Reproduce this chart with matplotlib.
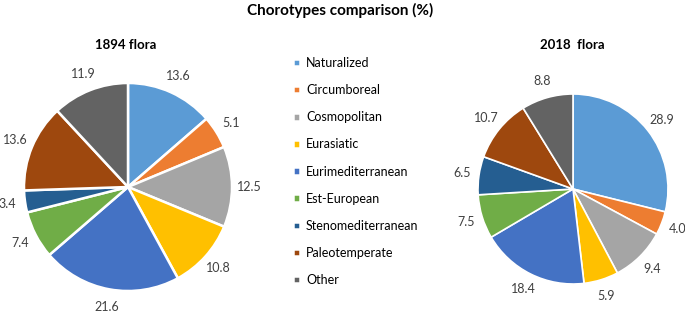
import matplotlib
matplotlib.use("Agg")
import matplotlib.pyplot as plt

categories = ["Naturalized", "Circumboreal", "Cosmopolitan", "Eurasiatic",
              "Eurimediterranean", "Est-European", "Stenomediterranean",
              "Paleotemperate", "Other"]
flora_1894 = [13.6, 5.1, 12.5, 10.8, 21.6, 7.4, 3.4, 13.6, 11.9]
flora_2018 = [28.9, 4.0, 9.4, 5.9, 18.4, 7.5, 6.5, 10.7, 8.8]
colors = ["#5B9BD5", "#ED7D31", "#A5A5A5", "#FFC000", "#4472C4",
          "#70AD47", "#255E91", "#9E480E", "#636363"]

plt.rcParams['font.family'] = ['Lato', 'DejaVu Sans']

W, H = 685, 312
fig = plt.figure(figsize=(W / 100, H / 100), dpi=100)


def pie_axes(cx, cy, r):
    return fig.add_axes([(cx - r) / W, (H - cy - r) / H, 2 * r / W, 2 * r / H])


def draw_pie(ax, values, lw, dist):
    wedges, texts = ax.pie(values, colors=colors, startangle=90, counterclock=False,
                           labels=[f"{v:.1f}" for v in values], labeldistance=dist,
                           wedgeprops=dict(edgecolor="white", linewidth=lw),
                           textprops=dict(fontsize=9, color="#404040"), radius=1)
    for t in texts:
        t.set_ha("center")
        t.set_va("center")
    ax.set_xlim(-1, 1)
    ax.set_ylim(-1, 1)
    return wedges


ax1 = pie_axes(128, 187, 104)
wedges = draw_pie(ax1, flora_1894, 1.8, 1.17)

ax2 = pie_axes(573, 189, 95)
draw_pie(ax2, flora_2018, 1.2, 1.18)

fig.text(340 / W, 1 - 10 / H, "Chorotypes comparison (%)", ha="center", va="center",
         fontsize=11, fontweight="bold")
fig.text(126 / W, 1 - 45 / H, "1894 flora", ha="center", va="center",
         fontsize=9.5, fontweight="bold")
fig.text(572 / W, 1 - 45 / H, "2018  flora", ha="center", va="center",
         fontsize=9.5, fontweight="bold")

fig.legend(wedges, categories, loc="upper left", bbox_to_anchor=(293 / W, 1 - 57 / H),
           frameon=False, fontsize=9, handlelength=0.55, handleheight=0.55,
           handletextpad=0.5, labelspacing=1.21, borderaxespad=0, borderpad=0)

fig.savefig("out.png", dpi=100)
